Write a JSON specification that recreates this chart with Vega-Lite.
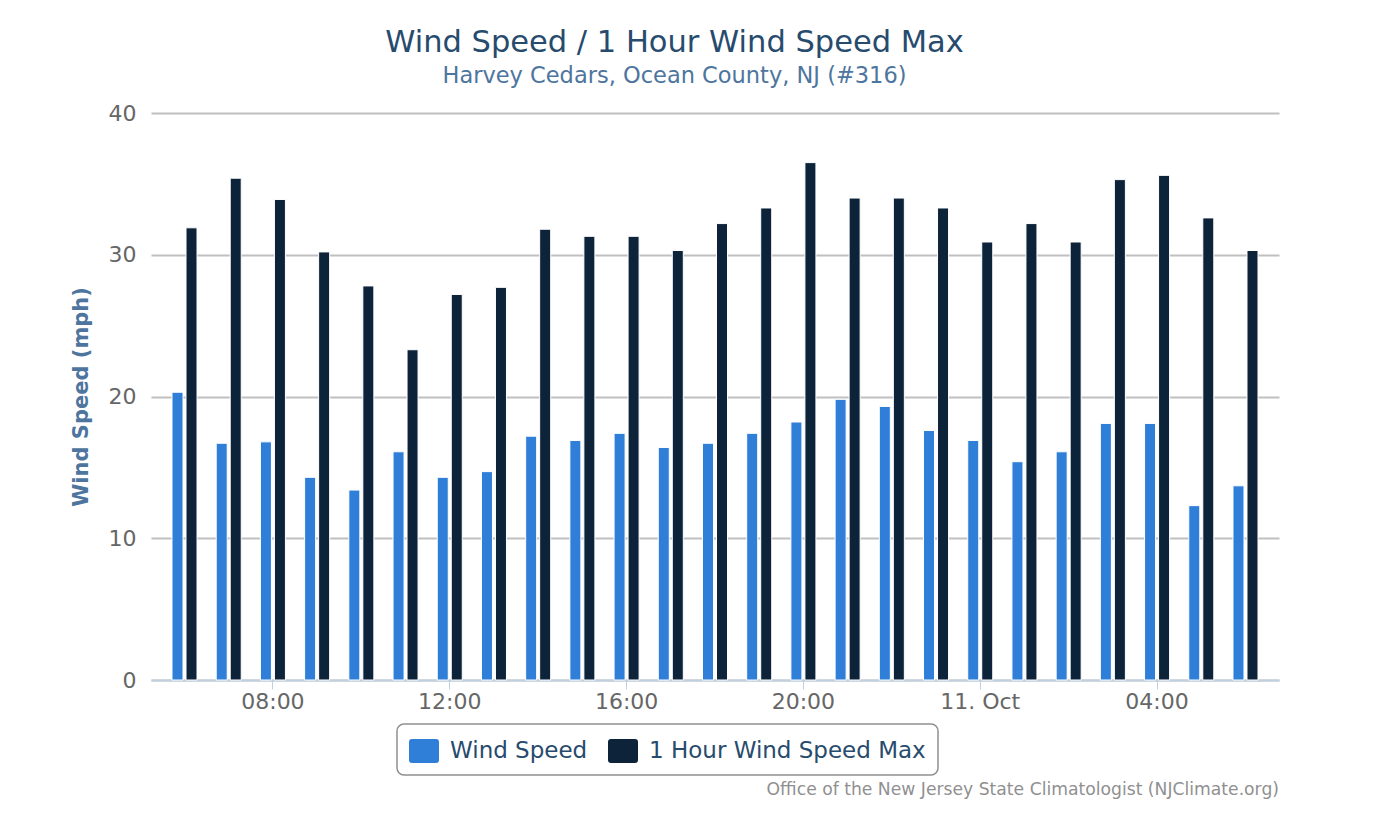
{
  "$schema": "https://vega.github.io/schema/vega-lite/v6.json",
  "background": "white",
  "padding": {"left": 70, "top": 28, "right": 100, "bottom": 20},
  "title": {
    "text": "Wind Speed / 1 Hour Wind Speed Max",
    "subtitle": "Harvey Cedars, Ocean County, NJ (#316)",
    "anchor": "middle",
    "font": "DejaVu Sans",
    "fontSize": 30.5,
    "fontWeight": "normal",
    "color": "#274b6d",
    "subtitleFont": "DejaVu Sans",
    "subtitleFontSize": 22.5,
    "subtitleColor": "#4d759e",
    "subtitlePadding": 6,
    "offset": 15
  },
  "resolve": {"legend": {"color": "independent"}},
  "vconcat": [
    {
      "width": 1128,
      "height": 567,
      "title": {
        "text": "Office of the New Jersey State Climatologist (NJClimate.org)",
        "orient": "bottom",
        "anchor": "end",
        "frame": "group",
        "font": "DejaVu Sans",
        "fontSize": 17.2,
        "fontWeight": "normal",
        "color": "#909090",
        "offset": 5
      },
      "data": {
        "values": [
          {"time": "Oct 10 06:00", "series": "Wind Speed", "value": 20.3},
          {"time": "Oct 10 06:00", "series": "1 Hour Wind Speed Max", "value": 31.9},
          {"time": "Oct 10 07:00", "series": "Wind Speed", "value": 16.7},
          {"time": "Oct 10 07:00", "series": "1 Hour Wind Speed Max", "value": 35.4},
          {"time": "Oct 10 08:00", "series": "Wind Speed", "value": 16.8},
          {"time": "Oct 10 08:00", "series": "1 Hour Wind Speed Max", "value": 33.9},
          {"time": "Oct 10 09:00", "series": "Wind Speed", "value": 14.3},
          {"time": "Oct 10 09:00", "series": "1 Hour Wind Speed Max", "value": 30.2},
          {"time": "Oct 10 10:00", "series": "Wind Speed", "value": 13.4},
          {"time": "Oct 10 10:00", "series": "1 Hour Wind Speed Max", "value": 27.8},
          {"time": "Oct 10 11:00", "series": "Wind Speed", "value": 16.1},
          {"time": "Oct 10 11:00", "series": "1 Hour Wind Speed Max", "value": 23.3},
          {"time": "Oct 10 12:00", "series": "Wind Speed", "value": 14.3},
          {"time": "Oct 10 12:00", "series": "1 Hour Wind Speed Max", "value": 27.2},
          {"time": "Oct 10 13:00", "series": "Wind Speed", "value": 14.7},
          {"time": "Oct 10 13:00", "series": "1 Hour Wind Speed Max", "value": 27.7},
          {"time": "Oct 10 14:00", "series": "Wind Speed", "value": 17.2},
          {"time": "Oct 10 14:00", "series": "1 Hour Wind Speed Max", "value": 31.8},
          {"time": "Oct 10 15:00", "series": "Wind Speed", "value": 16.9},
          {"time": "Oct 10 15:00", "series": "1 Hour Wind Speed Max", "value": 31.3},
          {"time": "Oct 10 16:00", "series": "Wind Speed", "value": 17.4},
          {"time": "Oct 10 16:00", "series": "1 Hour Wind Speed Max", "value": 31.3},
          {"time": "Oct 10 17:00", "series": "Wind Speed", "value": 16.4},
          {"time": "Oct 10 17:00", "series": "1 Hour Wind Speed Max", "value": 30.3},
          {"time": "Oct 10 18:00", "series": "Wind Speed", "value": 16.7},
          {"time": "Oct 10 18:00", "series": "1 Hour Wind Speed Max", "value": 32.2},
          {"time": "Oct 10 19:00", "series": "Wind Speed", "value": 17.4},
          {"time": "Oct 10 19:00", "series": "1 Hour Wind Speed Max", "value": 33.3},
          {"time": "Oct 10 20:00", "series": "Wind Speed", "value": 18.2},
          {"time": "Oct 10 20:00", "series": "1 Hour Wind Speed Max", "value": 36.5},
          {"time": "Oct 10 21:00", "series": "Wind Speed", "value": 19.8},
          {"time": "Oct 10 21:00", "series": "1 Hour Wind Speed Max", "value": 34.0},
          {"time": "Oct 10 22:00", "series": "Wind Speed", "value": 19.3},
          {"time": "Oct 10 22:00", "series": "1 Hour Wind Speed Max", "value": 34.0},
          {"time": "Oct 10 23:00", "series": "Wind Speed", "value": 17.6},
          {"time": "Oct 10 23:00", "series": "1 Hour Wind Speed Max", "value": 33.3},
          {"time": "Oct 11 00:00", "series": "Wind Speed", "value": 16.9},
          {"time": "Oct 11 00:00", "series": "1 Hour Wind Speed Max", "value": 30.9},
          {"time": "Oct 11 01:00", "series": "Wind Speed", "value": 15.4},
          {"time": "Oct 11 01:00", "series": "1 Hour Wind Speed Max", "value": 32.2},
          {"time": "Oct 11 02:00", "series": "Wind Speed", "value": 16.1},
          {"time": "Oct 11 02:00", "series": "1 Hour Wind Speed Max", "value": 30.9},
          {"time": "Oct 11 03:00", "series": "Wind Speed", "value": 18.1},
          {"time": "Oct 11 03:00", "series": "1 Hour Wind Speed Max", "value": 35.3},
          {"time": "Oct 11 04:00", "series": "Wind Speed", "value": 18.1},
          {"time": "Oct 11 04:00", "series": "1 Hour Wind Speed Max", "value": 35.6},
          {"time": "Oct 11 05:00", "series": "Wind Speed", "value": 12.3},
          {"time": "Oct 11 05:00", "series": "1 Hour Wind Speed Max", "value": 32.6},
          {"time": "Oct 11 06:00", "series": "Wind Speed", "value": 13.7},
          {"time": "Oct 11 06:00", "series": "1 Hour Wind Speed Max", "value": 30.3}
        ]
      },
      "mark": {"type": "bar", "stroke": "white", "strokeWidth": 1},
      "encoding": {
        "x": {
          "field": "time",
          "type": "ordinal",
          "sort": null,
          "scale": {"paddingInner": 0.434, "paddingOuter": 0.475},
          "axis": {
            "title": null,
            "values": ["Oct 10 08:00", "Oct 10 12:00", "Oct 10 16:00", "Oct 10 20:00", "Oct 11 00:00", "Oct 11 04:00"],
            "labelExpr": "slice(datum.value, 7) == '00:00' ? '11. Oct' : slice(datum.value, 7)",
            "labelAngle": 0,
            "labelFont": "DejaVu Sans",
            "labelFontSize": 22,
            "labelColor": "#666666",
            "labelPadding": 2,
            "tickColor": "#C0D0E0",
            "tickSize": 9,
            "tickWidth": 1,
            "domainColor": "#C0D0E0",
            "domainWidth": 2,
            "grid": false
          }
        },
        "xOffset": {
          "field": "series",
          "type": "nominal",
          "sort": ["Wind Speed", "1 Hour Wind Speed Max"],
          "scale": {"paddingInner": 0.214, "paddingOuter": 0}
        },
        "y": {
          "field": "value",
          "type": "quantitative",
          "scale": {"domain": [0, 40], "nice": false},
          "axis": {
            "title": "Wind Speed (mph)",
            "titleFont": "DejaVu Sans",
            "titleFontSize": 21,
            "titleFontWeight": "bold",
            "titleColor": "#4d759e",
            "titlePadding": 17,
            "values": [0, 10, 20, 30, 40],
            "labelFont": "DejaVu Sans",
            "labelFontSize": 22,
            "labelColor": "#666666",
            "labelPadding": 15,
            "ticks": false,
            "tickSize": 0,
            "domain": false,
            "grid": true,
            "gridColor": "#C0C0C0",
            "gridWidth": 2
          }
        },
        "color": {
          "field": "series",
          "type": "nominal",
          "sort": ["Wind Speed", "1 Hour Wind Speed Max"],
          "scale": {"domain": ["Wind Speed", "1 Hour Wind Speed Max"], "range": ["#2f7ed8", "#0d233a"]},
          "legend": {
            "title": null,
            "orient": "none",
            "legendX": 246,
            "legendY": 611,
            "direction": "horizontal",
            "labelFont": "DejaVu Sans",
            "labelFontSize": 23,
            "labelColor": "#274b6d",
            "labelLimit": 0,
            "labelOffset": 11,
            "columnPadding": 20,
            "symbolType": "M-0.8,-0.8H0.8Q1,-0.8 1,-0.6V0.6Q1,0.8 0.8,0.8H-0.8Q-1,0.8 -1,0.6V-0.6Q-1,-0.8 -0.8,-0.8Z",
            "symbolSize": 900,
            "symbolStrokeWidth": 0,
            "symbolOpacity": 1,
            "strokeColor": "#909090",
            "cornerRadius": 7,
            "padding": 12
          }
        }
      }
    }
  ],
  "config": {
    "view": {"stroke": null},
    "legend": {"strokeWidth": 1.5}
  }
}
